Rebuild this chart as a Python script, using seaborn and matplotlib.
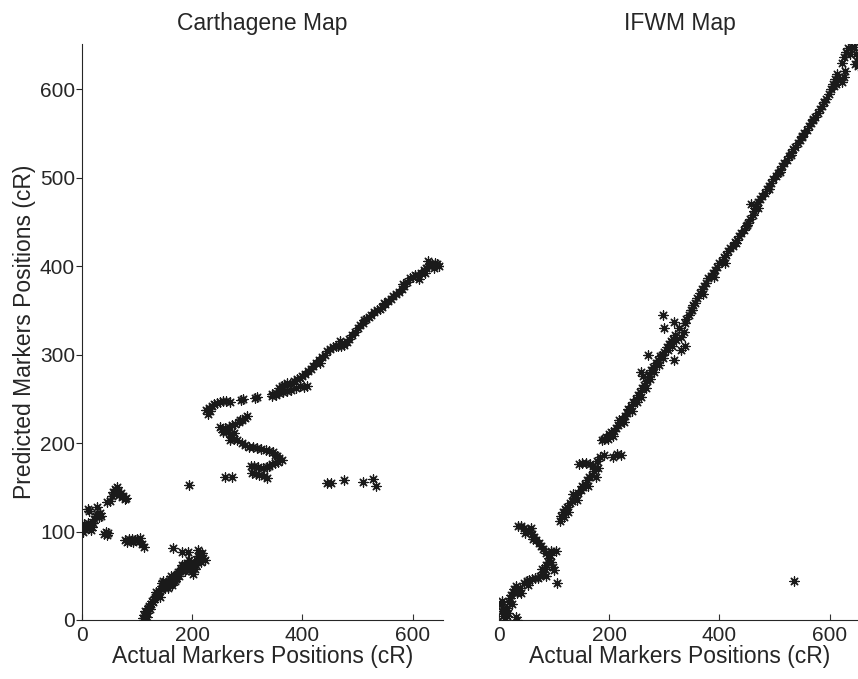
import seaborn as sns
import matplotlib.pyplot as plt
import pandas as pd

# Carthagene map: actual vs predicted marker positions (cR)
carth_actual = [
    110, 112, 115, 114, 118, 120, 122, 125, 128, 130, 133, 136, 138, 140, 143, 146, 148, 145, 150, 152,
    155, 158, 160, 163, 165, 168, 170, 172, 175, 178, 180, 183, 185, 188, 190, 192, 195, 197, 200, 202,
    205, 208, 210, 213, 216, 220, 223, 211, 193, 182, 165,
    113, 117, 124, 127, 135, 141, 147, 156, 162, 169, 176, 181, 186, 194, 199, 203, 207, 215, 218,
    1, 3, 5, 8, 10, 12, 14, 16, 18, 2, 20, 22, 25, 28, 30, 33, 35, 10, 12, 28, 40, 43, 46, 48,
    45, 50, 55, 57, 60, 62, 65, 68, 70, 72, 75, 78, 80, 63,
    78, 82, 85, 88, 90, 93, 96, 100, 103, 105, 108, 113,
    194,
    225, 228, 230, 232, 235, 240, 245, 250, 255, 262, 268, 288, 292, 314, 318, 344, 352,
    345, 352, 358, 365, 372, 380, 388, 395,
    358, 362, 366, 372, 378, 385, 390, 395, 400, 405, 403, 408, 410, 415, 420, 425, 430, 435, 440, 445,
    450, 455, 460, 465, 470, 475, 480, 485, 490, 495, 500, 505, 510, 515, 520, 525, 530, 535, 540, 545,
    550, 555, 560, 565, 570, 575, 580, 585, 590, 595, 600, 605, 610, 615, 620, 625, 630, 635, 640, 645,
    648, 612, 628, 638, 432, 468, 512, 548, 582, 622,
    300, 296, 290, 284, 278, 272, 266, 260, 254, 250, 255, 262, 268, 272, 276, 282, 290, 296, 303, 310,
    318, 325, 333, 340, 346, 350, 354, 358, 362, 356, 350, 345, 340, 335, 328, 320, 312, 306, 308, 315,
    322, 330, 336, 275, 269, 287,
    260, 273, 445, 452, 475, 510, 528, 533,
]
carth_pred = [
    2, 6, 4, 10, 8, 13, 16, 18, 20, 24, 26, 28, 30, 33, 35, 38, 40, 42, 36, 42,
    40, 44, 46, 40, 48, 50, 46, 52, 54, 55, 58, 60, 62, 58, 64, 60, 62, 66, 55, 52,
    58, 68, 72, 70, 74, 70, 68, 79, 77, 77, 81,
    0, 3, 12, 22, 32, 26, 44, 36, 50, 44, 50, 62, 55, 68, 60, 64, 62, 66, 76,
    105, 108, 103, 106, 110, 104, 107, 102, 105, 100, 110, 114, 117, 120, 116, 121, 118, 126, 123, 128, 97, 99, 96, 98,
    133, 135, 140, 145, 148, 144, 146, 141, 143, 139, 140, 137, 138, 150,
    90, 88, 91, 89, 92, 88, 90, 91, 89, 93, 86, 82,
    153,
    237, 233, 240, 236, 242, 244, 245, 246, 247, 247, 246, 249, 250, 251, 252, 253, 254,
    255, 256, 257, 258, 259, 260, 262, 264,
    262, 265, 266, 268, 267, 270, 272, 274, 276, 278, 263, 264, 281, 284, 287, 290, 294, 297, 300, 304,
    306, 309, 310, 310, 310, 311, 314, 318, 322, 326, 330, 333, 336, 340, 342, 345, 348, 350, 352, 354,
    357, 361, 363, 366, 368, 371, 374, 378, 382, 386, 388, 390, 390, 392, 396, 398, 400, 402, 404, 402,
    400, 385, 406, 398, 290, 315, 339, 358, 380, 392,
    230, 228, 226, 224, 222, 220, 218, 217, 216, 218, 213, 212, 210, 207, 205, 203, 200, 198, 196, 195,
    194, 193, 192, 191, 190, 187, 185, 183, 181, 179, 178, 176, 174, 173, 172, 173, 174, 174, 166, 165,
    164, 163, 161, 211, 203, 226,
    162, 162, 155, 155, 158, 156, 159, 152,
]

# IFWM map: actual vs predicted marker positions (cR)
ifwm_actual = [
    3, 5, 8, 10, 12, 14, 6, 15, 18, 20, 22, 25, 28, 30, 32, 35, 38, 33, 30,
    8, 16, 24, 40, 52, 78, 86, 94, 62, 58,
    45, 50, 55, 60, 65, 70, 75, 80, 83, 85, 88, 90, 92, 95, 98, 100, 104, 106,
    85, 80, 76, 72, 68, 64, 60, 56, 52, 46, 40, 35, 48,
    110, 113, 116, 120, 124, 128, 132, 136, 140, 144, 148, 152, 156, 160, 164, 168, 172, 170, 165, 158,
    150, 145, 178, 184, 190, 206, 215, 222, 186, 190, 195, 200, 204, 208, 212, 216, 220, 224, 228, 232,
    236, 240, 244, 248, 252, 256, 260, 264, 268, 262, 257, 272, 276, 280, 284, 288, 292, 296, 300, 270,
    304, 308, 312, 316, 320, 318, 330, 338, 335, 300, 318, 298, 326, 340, 345, 348, 352, 355,
    118, 126, 134, 142, 150, 162, 176, 180, 198, 206, 218, 226, 234, 242, 250, 258, 266, 274, 282, 290,
    298, 306, 314, 322, 330, 338,
    360, 364, 368, 372, 376, 380, 384, 388, 392, 396, 400, 404, 408, 412, 416, 420, 424, 428, 432, 436,
    440, 444, 448, 452, 456, 460, 464, 458, 462, 466, 470, 474, 478, 482, 486, 490, 494, 498, 502, 506,
    510, 514, 518, 522, 526, 530, 534, 538, 542, 546, 550, 554, 558, 562, 566, 570, 574, 578, 582, 586,
    590, 594, 598, 602, 606, 610, 614, 608, 618, 622, 626, 622, 626, 630, 634, 640, 645, 648, 650, 646,
    652, 350, 370, 390, 410, 430, 450, 470, 490, 510, 530, 550, 570, 590, 612, 628, 636,
    535,
]
ifwm_pred = [
    18, 10, 5, 2, 8, 4, 22, 14, 20, 25, 28, 32, 35, 38, 30, 34, 36, 0, 3,
    12, 8, 18, 30, 40, 58, 50, 78, 92, 104,
    42, 44, 45, 46, 47, 48, 50, 54, 58, 62, 66, 70, 73, 65, 60, 57, 78, 42,
    76, 80, 84, 87, 90, 94, 97, 100, 102, 104, 106, 106, 98,
    112, 118, 122, 125, 128, 132, 135, 138, 141, 144, 147, 150, 154, 158, 162, 164, 168, 174, 176, 178,
    178, 176, 180, 184, 186, 184, 188, 186, 203, 205, 207, 210, 212, 214, 217, 220, 223, 227, 230, 234,
    237, 242, 246, 250, 254, 258, 262, 266, 270, 276, 280, 278, 283, 286, 290, 294, 298, 300, 303, 300,
    309, 312, 315, 318, 322, 294, 305, 310, 325, 330, 337, 345, 330, 340, 345, 350, 356, 358,
    116, 122, 142, 136, 152, 152, 162, 172, 204, 208, 226, 224, 238, 236, 246, 252, 262, 272, 280, 288,
    296, 305, 310, 316, 320, 336,
    364, 370, 374, 377, 381, 386, 389, 392, 396, 399, 403, 406, 410, 413, 417, 420, 423, 427, 430, 434,
    437, 441, 445, 449, 453, 458, 466, 470, 462, 468, 472, 476, 479, 483, 487, 491, 494, 498, 502, 505,
    509, 513, 516, 520, 524, 528, 532, 535, 539, 543, 547, 550, 554, 558, 562, 565, 569, 573, 577, 581,
    585, 589, 594, 600, 606, 612, 617, 604, 610, 608, 614, 630, 636, 642, 646, 648, 648, 640, 632, 628,
    626, 350, 368, 388, 404, 426, 446, 466, 487, 506, 526, 546, 566, 586, 606, 620, 640,
    44,
]

carth = pd.DataFrame({"actual": carth_actual, "pred": carth_pred})
ifwm = pd.DataFrame({"actual": ifwm_actual, "pred": ifwm_pred})

sns.set_theme(style="ticks")
plt.rcParams["font.family"] = ["Liberation Sans", "DejaVu Sans"]

tick_fs = 15
label_fs = 16.5
star = (8, 2, 0)  # asterisk like matlab '*'
ink = "#1a1a1a"

fig = plt.figure(figsize=(8.58, 6.79), dpi=100)
ax1 = fig.add_axes([0.0956, 0.0869, 0.4207, 0.8483])
ax2 = fig.add_axes([0.5816, 0.0869, 0.4207, 0.8483])

for ax, df, title in [(ax1, carth, "Carthagene Map"), (ax2, ifwm, "IFWM Map")]:
    sns.scatterplot(data=df, x="actual", y="pred", ax=ax, marker=star, s=44,
                    color=ink, edgecolor=ink, linewidth=0.9, zorder=3, clip_on=True)
    ax.set_xlim(0, 655)
    ax.set_ylim(0, 651)
    ax.set_xticks([0, 200, 400, 600])
    ax.set_title(title, fontsize=label_fs, pad=10)
    ax.set_xlabel("Actual Markers Positions (cR)", fontsize=label_fs, labelpad=0)
    ax.tick_params(axis="x", direction="in", length=4, width=0.8, labelsize=tick_fs, pad=4, color="#333333")
    for side in ["top", "right"]:
        ax.spines[side].set_visible(False)
    ax.spines["bottom"].set_linewidth(0.8)
    ax.spines["left"].set_linewidth(0.8)

ax1.set_yticks([0, 100, 200, 300, 400, 500, 600])
ax1.set_ylabel("Predicted Markers Positions (cR)", fontsize=label_fs, labelpad=3)
ax1.tick_params(axis="y", direction="out", length=4, width=0.8, labelsize=tick_fs, pad=1)

ax2.spines["left"].set_visible(False)
ax2.set_yticks([])
ax2.set_ylabel("")

fig.savefig("out.png", dpi=100)
